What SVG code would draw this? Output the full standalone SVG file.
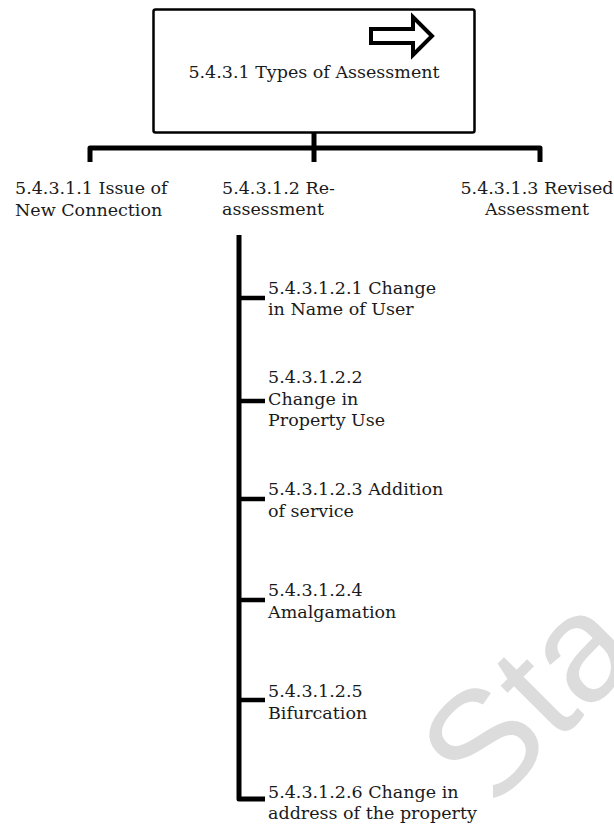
<svg xmlns="http://www.w3.org/2000/svg" width="614" height="825" viewBox="0 0 614 825">
<style>
  text { font-family: "DejaVu Serif", "Liberation Serif", serif; font-size: 17.5px; fill: #1a1a1a; }
  .conn { fill: none; stroke: #000; stroke-width: 5; stroke-linejoin: round; }
  .tick { fill: none; stroke: #000; stroke-width: 4.5; }
  .bg { fill: #fff; }
  .wm { font-family: "Liberation Sans", "DejaVu Sans", sans-serif; font-size: 152px; fill: #dcdcdc; }
</style>
<rect width="614" height="825" fill="#fff"/>
<g id="watermark">
  <text class="wm" transform="translate(484,816) rotate(-45)">Sta</text>
</g>
<g id="connectors">
  <path class="conn" d="M90,162 V148 H540 V162"/>
  <path class="conn" d="M314,133 V162"/>
  <path class="conn" d="M239,235 V799 H265"/>
  <path class="tick" d="M239,298 H265 M239,401 H265 M239,499 H265 M239,600 H265 M239,700 H265"/>
</g>
<g id="root">
  <rect x="153.5" y="9.5" width="321" height="123" rx="2" fill="#fff" stroke="#000" stroke-width="2.5"/>
  <polygon points="371,29 413,29 413,17 432,36 413,55 413,43 371,43" fill="#fff" stroke="#000" stroke-width="4"/>
  <text x="314" y="78" text-anchor="middle">5.4.3.1 Types of Assessment</text>
</g>
<g id="n1">
  <text x="15" y="194">5.4.3.1.1 Issue of</text>
  <text x="15" y="216">New Connection</text>
</g>
<g id="n2">
  <text x="222" y="193.5">5.4.3.1.2 Re-</text>
  <text x="222" y="215">assessment</text>
</g>
<g id="n3">
  <text x="537" y="193.5" text-anchor="middle">5.4.3.1.3 Revised</text>
  <text x="537" y="215" text-anchor="middle">Assessment</text>
</g>
<g id="n21">
  <text x="268" y="293.5">5.4.3.1.2.1 Change</text>
  <text x="268" y="315">in Name of User</text>
</g>
<g id="n22">
  <text x="268" y="383">5.4.3.1.2.2</text>
  <text x="268" y="404.5">Change in</text>
  <text x="268" y="426">Property Use</text>
</g>
<g id="n23">
  <text x="268" y="495">5.4.3.1.2.3 Addition</text>
  <text x="268" y="516.5">of service</text>
</g>
<g id="n24">
  <text x="268" y="596">5.4.3.1.2.4</text>
  <text x="268" y="617.5">Amalgamation</text>
</g>
<g id="n25">
  <text x="268" y="697">5.4.3.1.2.5</text>
  <text x="268" y="718.5">Bifurcation</text>
</g>
<g id="n26">
  <rect class="bg" x="266" y="765" width="227" height="60"/>
  <text x="268" y="797.5">5.4.3.1.2.6 Change in</text>
  <text x="268" y="819">address of the property</text>
</g>
</svg>
